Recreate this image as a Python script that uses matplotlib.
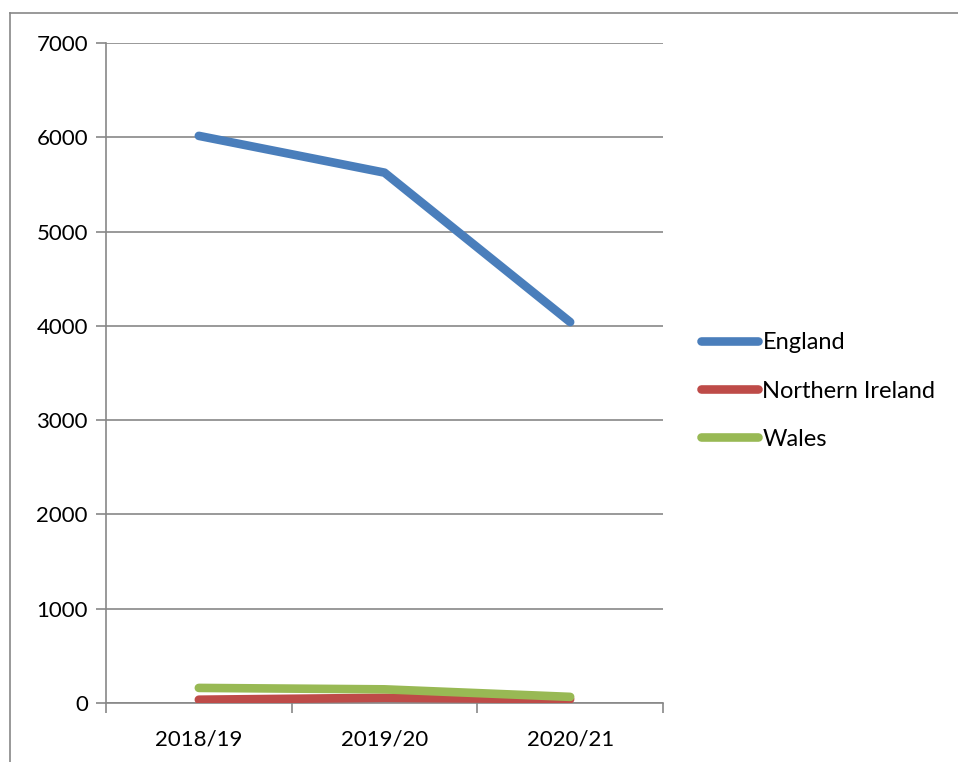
import matplotlib
matplotlib.use("Agg")
import matplotlib.pyplot as plt
from matplotlib.lines import Line2D

plt.rcParams['font.family'] = ['Lato', 'DejaVu Sans']

years = ['2018/19', '2019/20', '2020/21']
england = [6015, 5625, 4040]
northern_ireland = [35, 55, 40]
wales = [160, 145, 65]

grey = '#878787'
fs = 16

fig = plt.figure(figsize=(9.58, 7.62), dpi=100)
ax = fig.add_axes([106 / 958, 1 - 703 / 762, (663 - 106) / 958, (703 - 43) / 762])

x = range(len(years))
lw = 6.2
ax.plot(x, england, color='#4A7EBB', lw=lw, solid_capstyle='round', solid_joinstyle='round', label='England', zorder=3)
ax.plot(x, northern_ireland, color='#BE4B48', lw=lw, solid_capstyle='round', solid_joinstyle='round', label='Northern Ireland', zorder=3)
ax.plot(x, wales, color='#98B954', lw=lw, solid_capstyle='round', solid_joinstyle='round', label='Wales', zorder=3)

ax.set_xlim(-0.5, 2.5)
ax.set_ylim(0, 7000)
ax.set_yticks(range(0, 7001, 1000))
ax.yaxis.grid(True, color=grey, lw=1.2)
ax.set_axisbelow(True)

# category boundaries as major ticks, labels on minor ticks
ax.set_xticks([-0.5, 0.5, 1.5, 2.5])
ax.set_xticklabels([])
ax.set_xticks(list(x), minor=True)
ax.set_xticklabels(years, minor=True)
ax.tick_params(axis='x', which='major', length=7, width=1.2, color=grey, direction='out')
ax.tick_params(axis='x', which='minor', length=0, pad=19, labelsize=fs)
ax.tick_params(axis='y', length=7, width=1.2, color=grey, pad=6, labelsize=fs)

for s in ['top', 'right']:
    ax.spines[s].set_visible(False)
for s in ['left', 'bottom']:
    ax.spines[s].set_color(grey)
    ax.spines[s].set_linewidth(1.2)

leg = fig.legend(loc='center left', bbox_to_anchor=(701 / 958, 1 - 391 / 762), frameon=False,
                 fontsize=17, handlelength=2.4, handletextpad=0.2, labelspacing=1.15,
                 borderaxespad=0, borderpad=0)

# outer chart border (only left and top visible)
fig.add_artist(Line2D([10 / 958, 10 / 958], [0, 1 - 13 / 762], color=grey, lw=1.2, transform=fig.transFigure))
fig.add_artist(Line2D([10 / 958, 1], [1 - 13 / 762, 1 - 13 / 762], color=grey, lw=1.2, transform=fig.transFigure))

fig.savefig('out.png', dpi=100)
